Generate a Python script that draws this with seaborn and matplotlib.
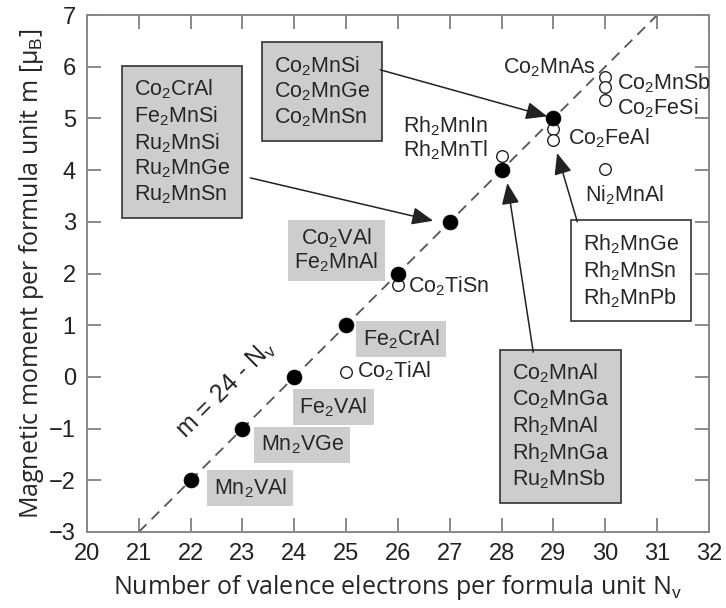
import matplotlib
matplotlib.use("Agg")
import matplotlib.pyplot as plt
import seaborn as sns
import pandas as pd

# Heusler compounds following the Slater-Pauling rule
filled_n = [22, 23, 24, 25, 26, 27, 28, 29]
filled_m = [-2, -1, 0, 1, 2, 3, 4, 5]

# Compounds deviating from the rule (open symbols)
open_names = ["Co2TiAl", "Co2TiSn", "Rh2MnIn", "Co2FeAl", "Rh2MnGe",
              "Co2MnAs", "Co2MnSb", "Co2FeSi", "Ni2MnAl"]
open_n = [25, 26, 28, 29, 29, 30, 30, 30, 30]
open_m = [0.1, 1.77, 4.27, 4.8, 4.58, 5.8, 5.6, 5.35, 4.03]

# Slater-Pauling guide line end points
guide_n = [21, 31]
guide_m = [-3, 7]

x_ticks = list(range(20, 33))
y_ticks = list(range(-3, 8))

sns.set_style("ticks")
plt.rcParams["font.family"] = ["Liberation Sans", "DejaVu Sans"]
plt.rcParams["mathtext.fontset"] = "custom"
plt.rcParams["mathtext.rm"] = "Liberation Sans"
plt.rcParams["mathtext.it"] = "Liberation Sans:italic"
plt.rcParams["mathtext.bf"] = "Liberation Sans:bold"

fig = plt.figure(figsize=(7.26, 6.08), dpi=100)
ax = fig.add_axes([0.1198, 0.125, 0.8567, 0.8503])

filled_df = pd.DataFrame({"N": filled_n, "m": filled_m})
open_df = pd.DataFrame({"N": open_n, "m": open_m, "name": open_names})
guide_df = pd.DataFrame({"N": guide_n, "m": guide_m})

sns.lineplot(data=guide_df, x="N", y="m", ax=ax, color="#555555",
             lw=1.3, dashes=False, zorder=1)
ax.lines[-1].set_dashes([6, 4])
sns.scatterplot(data=open_df, x="N", y="m", ax=ax, s=70, marker="o",
                facecolor="white", edgecolor="#222222", linewidth=1.0,
                zorder=4)
sns.scatterplot(data=filled_df, x="N", y="m", ax=ax, s=115, marker="o",
                color="black", edgecolor="black", linewidth=0.5, zorder=5)

ax.set_xlim(20, 32)
ax.set_ylim(-3, 7)
ax.set_xticks(x_ticks)
ax.set_yticks(y_ticks)
ax.tick_params(direction="in", length=10, width=1.2, color="#777777",
               labelsize=17, labelcolor="#222222", pad=8,
               top=True, right=True)
for sp in ax.spines.values():
    sp.set_color("#888888")
    sp.set_linewidth(1.4)

label_font = ["Open Sans", "DejaVu Sans"]
ax.set_xlabel("Number of valence electrons per formula unit N$_{\\rm v}$",
              family=label_font, fontsize=18, labelpad=6)
ax.set_ylabel("Magnetic moment per formula unit m [\u03bc$_{\\rm B}$]",
              family=label_font, fontsize=18, labelpad=2)

fs = 15.5
grey = "#cdcdcd"

# Framed group boxes
framed = dict(boxstyle="square,pad=0.55", facecolor=grey,
              edgecolor="#333333", linewidth=1.2)
ax.text(20.91, 4.55,
        "Co$_2$CrAl\nFe$_2$MnSi\nRu$_2$MnSi\nRu$_2$MnGe\nRu$_2$MnSn",
        fontsize=fs, ha="left", va="center", linespacing=1.18,
        bbox=framed, zorder=3)
ax.text(23.61, 5.52, "Co$_2$MnSi\nCo$_2$MnGe\nCo$_2$MnSn",
        fontsize=fs, ha="left", va="center", linespacing=1.18,
        bbox=framed, zorder=3)
ax.text(28.20, -0.96,
        "Co$_2$MnAl\nCo$_2$MnGa\nRh$_2$MnAl\nRh$_2$MnGa\nRu$_2$MnSb",
        fontsize=fs, ha="left", va="center", linespacing=1.18,
        bbox=framed, zorder=3)
ax.text(29.57, 2.05, "Rh$_2$MnGe\nRh$_2$MnSn\nRh$_2$MnPb",
        fontsize=fs, ha="left", va="center", linespacing=1.18,
        bbox=dict(boxstyle="square,pad=0.55", facecolor="white",
                  edgecolor="#333333", linewidth=1.2), zorder=3)

# Shaded single labels
shaded = dict(boxstyle="square,pad=0.3", facecolor=grey, edgecolor="none")
for txt, x, y in [("Co$_2$VAl\nFe$_2$MnAl", 24.81, 2.45),
                  ("Fe$_2$CrAl", 26.06, 0.73),
                  ("Fe$_2$VAl", 24.75, -0.58),
                  ("Mn$_2$VGe", 24.15, -1.32),
                  ("Mn$_2$VAl", 23.15, -2.15)]:
    ax.text(x, y, txt, fontsize=fs, ha="center", va="center",
            linespacing=1.05, bbox=shaded, zorder=3)

# Plain labels
for txt, x, y, ha in [("Co$_2$TiSn", 26.20, 1.76, "left"),
                      ("Co$_2$TiAl", 25.21, 0.11, "left"),
                      ("Rh$_2$MnIn\nRh$_2$MnTl", 26.10, 4.62, "left"),
                      ("Co$_2$MnAs", 29.81, 5.99, "right"),
                      ("Co$_2$MnSb", 30.23, 5.68, "left"),
                      ("Co$_2$FeSi", 30.23, 5.20, "left"),
                      ("Co$_2$FeAl", 29.29, 4.62, "left"),
                      ("Ni$_2$MnAl", 29.61, 3.52, "left")]:
    ax.text(x, y, txt, fontsize=fs, ha=ha, va="center", linespacing=1.05,
            zorder=3)

ax.text(22.68, -0.25, "m = 24 - N$_{\\rm v}$", fontsize=18,
        rotation=45, ha="center", va="center", rotation_mode="anchor",
        bbox=dict(boxstyle="square,pad=0.15", facecolor="white",
                  edgecolor="none"), zorder=2)

# Arrows from group boxes to the corresponding points
arrow = dict(arrowstyle="-|>,head_length=0.65,head_width=0.27",
             color="#222222", lw=1.1, mutation_scale=20,
             shrinkA=0, shrinkB=0)
for tip, tail in [((26.68, 3.02), (23.15, 3.85)),
                  ((28.88, 5.04), (25.66, 5.94)),
                  ((29.07, 4.33), (29.46, 3.00)),
                  ((28.11, 3.75), (28.61, 0.48))]:
    ax.annotate("", xy=tip, xytext=tail, arrowprops=arrow, zorder=6)

fig.savefig("out.png", dpi=100)
